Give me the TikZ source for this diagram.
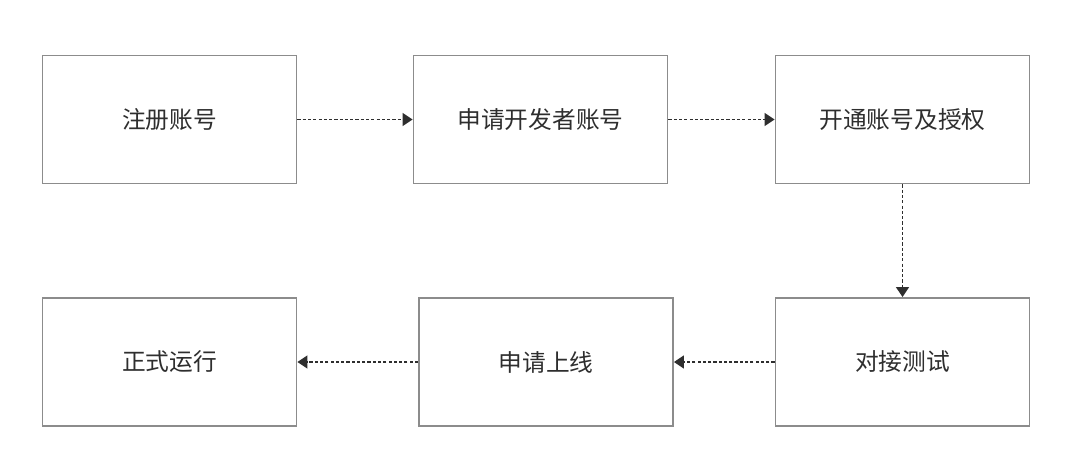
\documentclass[tikz,border=0pt]{standalone}
\usepackage{fontspec}
\setmainfont{Noto Sans CJK SC}
\usetikzlibrary{arrows.meta}
\definecolor{boxgray}{HTML}{8C8C8C}
\definecolor{txtgray}{HTML}{2E2E2E}
\begin{document}
\begin{tikzpicture}[every node/.style={font=\fontsize{13.5pt}{16pt}\selectfont, text=txtgray},
		s/.style={rectangle, draw=boxgray, line width=1.1pt, minimum width=5.08cm, minimum height=2.56cm, inner sep=0pt},
		flow/.style={draw=txtgray, line width=0.75pt, dash pattern=on 1.8pt off 1.2pt, -{Triangle[length=0.2cm, width=0.26cm, fill=txtgray]}}]
			\useasboundingbox (0, 0) rectangle (21.6, 9.38);
			\node[s] (reg) at (3.39, 6.99) {注册账号};
			\node[s] (dev) at (10.81, 6.99) {申请开发者账号};
			\node[s] (auth) at (18.05, 6.99) {开通账号及授权};
			\node[s] (test) at (18.05, 2.14) {对接测试};
			\node[s] (online) at (10.92, 2.14) {申请上线};
			\node[s] (run) at (3.39, 2.14) {正式运行};

			\draw[flow] (reg) edge (dev);
			\draw[flow] (dev) edge (auth);
			\draw[flow] (auth) edge (test);
			\draw[flow] (test) edge (online);
			\draw[flow] (online) edge (run);
		\end{tikzpicture}
\end{document}
